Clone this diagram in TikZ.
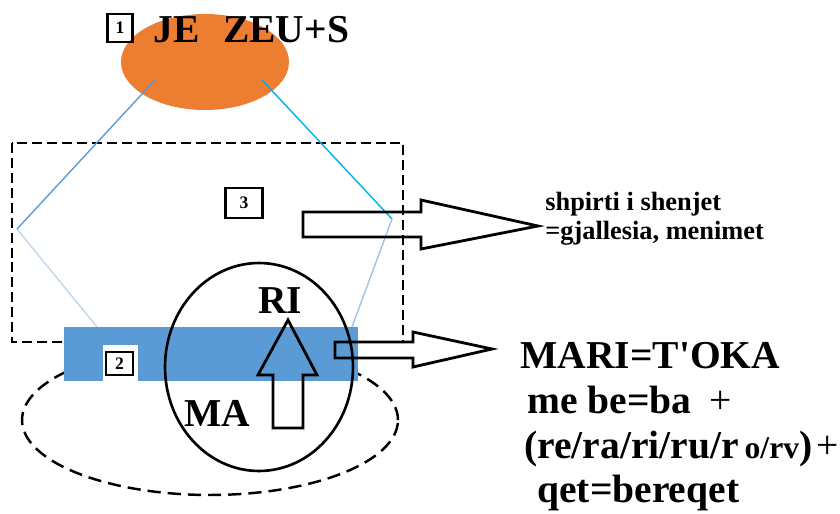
\documentclass[tikz,border=0pt]{standalone}
\usepackage{fontspec}
\setmainfont{Liberation Serif}
\usepackage{tikz}
\usetikzlibrary{shapes.geometric}
\definecolor{zeusorange}{HTML}{ED7D31}
\definecolor{earthblue}{HTML}{5B9BD5}
\definecolor{skyblue}{HTML}{00B0F0}
\definecolor{paleblue}{HTML}{BDD7EE}
\definecolor{midblue}{HTML}{9DC3E6}
\tikzset{
  numbox/.style={draw,line width=1.5pt,inner sep=0pt,font=\bfseries\fontsize{10}{10}\selectfont},
  bigtext/.style={inner sep=0pt,anchor=base west,font=\bfseries\fontsize{22.5}{22.5}\selectfont},
  smalltext/.style={inner sep=0pt,anchor=base west,font=\bfseries\fontsize{15}{15}\selectfont},
  dashline/.style={line width=1.3pt,dash pattern=on 5.7pt off 2.8pt},
  longdash/.style={line width=1.4pt,dash pattern=on 7.5pt off 4pt},
  blockarrow/.style={line width=1.6pt,line join=miter},
  ray/.style={line width=.8pt}
}
\begin{document}
\begin{tikzpicture}[x=0.02cm,y=-0.02cm]
\useasboundingbox (0,0) rectangle (840,514);
% soul region
\draw[dashline] (12,143) rectangle (403,342);
% Zeus
\node[ellipse,fill=zeusorange,minimum width=3.36cm,minimum height=1.92cm,inner sep=0pt] (zeus) at (205,62) {};
\node[numbox,minimum width=.5cm,minimum height=.56cm] (n1) at (120,28) {1};
\node[bigtext] (zeustxt) at (153,42) {JE\hspace{0.6em}ZEU+S};
\coordinate (zl) at (155,80);
\coordinate (zr) at (262,80);
\coordinate (lv) at (17,229);
\coordinate (rv) at (392,219);
\coordinate (el) at (97,327);
\coordinate (er) at (352,327);
\draw[ray,earthblue] (zl) -- (lv);
\draw[ray,paleblue] (lv) -- (el);
\draw[ray,skyblue] (zr) -- (rv);
\draw[ray,midblue] (rv) -- (er);
\node[numbox,minimum width=.74cm,minimum height=.6cm] (n3) at (244,203) {3};
% earth
\node[ellipse,longdash,draw,minimum width=7.52cm,minimum height=3cm] (ground) at (210,420) {};
\node[fill=earthblue,minimum width=5.88cm,minimum height=1.08cm,inner sep=0pt] (earth) at (211,354) {};
\node[fill=white,minimum width=.7cm,minimum height=.72cm,inner sep=0pt] (notch) at (120.5,363) {};
\node[numbox,minimum width=.54cm,minimum height=.46cm] (n2) at (119.5,363.5) {2};
\node[ellipse,draw,line width=1.5pt,minimum width=3.76cm,minimum height=4.16cm] (mari) at (259,367) {};
\node[bigtext,anchor=base] (ri) at (280,313) {RI};
\node[bigtext,anchor=base] (ma) at (217,426) {MA};
% block arrows
\draw[blockarrow] (273,428) -- (273,375) -- (258,375) -- (288,320) -- (317,375) -- (303,375) -- (303,428) -- cycle;
\draw[blockarrow] (303,212) -- (421,212) -- (421,200) -- (538,226) -- (421,249) -- (421,237) -- (303,237) -- cycle;
\draw[blockarrow] (335,342) -- (413,342) -- (413,332) -- (492,349) -- (413,367) -- (413,358) -- (335,358) -- cycle;
% texts
\node[smalltext] (soul1) at (545,210) {shpirti i shenjet};
\node[smalltext] (soul2) at (545,239) {=gjallesia, menimet};
\node[bigtext] (t1) at (520,368) {MARI=T\textquotesingle OKA};
\node[bigtext] (t2) at (527,413) {me be=ba\hspace{0.45em}{\mdseries +}};
\node[bigtext] (t3) at (524,458) {(re/ra/ri/ru/r\hspace{0.15em}{\fontsize{18}{18}\selectfont o/rv})\hspace{0.1em}{\mdseries +}};
\node[bigtext] (t4) at (537,502) {qet=bereqet};
\end{tikzpicture}
\end{document}
